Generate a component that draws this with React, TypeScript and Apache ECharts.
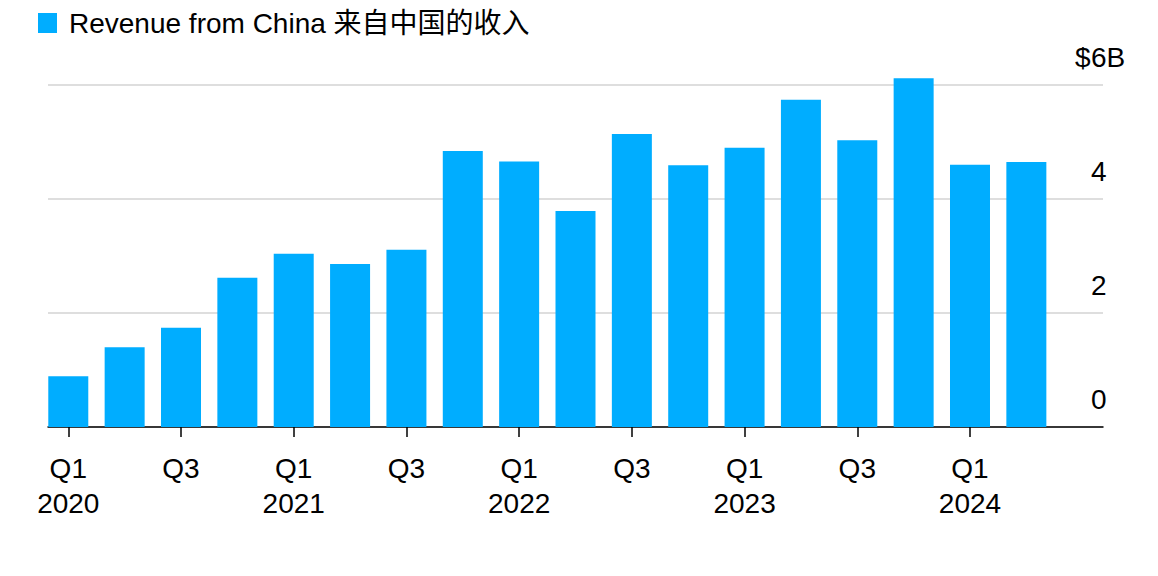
import React, { useEffect, useRef } from "react";
import * as echarts from "echarts";

const quarters = [
  "Q1 2020", "Q2 2020", "Q3 2020", "Q4 2020",
  "Q1 2021", "Q2 2021", "Q3 2021", "Q4 2021",
  "Q1 2022", "Q2 2022", "Q3 2022", "Q4 2022",
  "Q1 2023", "Q2 2023", "Q3 2023", "Q4 2023",
  "Q1 2024", "Q2 2024",
];
const revenue = [
  0.89, 1.4, 1.74, 2.62,
  3.04, 2.86, 3.11, 4.84,
  4.66, 3.79, 5.14, 4.59,
  4.9, 5.74, 5.03, 6.12,
  4.6, 4.65,
];
const tickIndexes = [0, 2, 4, 6, 8, 10, 12, 14, 16];
const yTicks = [0, 2, 4, 6];
const seriesName = "Revenue from China 来自中国的收入";

const FONT = "'Liberation Sans', Arial, Helvetica, 'Noto Sans CJK SC', sans-serif";

export default function App() {
  const ref = useRef<HTMLDivElement>(null);
  useEffect(() => {
    if (!ref.current) return;
    const chart = echarts.init(ref.current, null, { renderer: "svg" });
    const data = revenue.map((v, i) => [i, v]);
    chart.setOption({
      animation: false,
      textStyle: { fontFamily: FONT },
      legend: {
        show: true,
        left: 38,
        top: 9,
        padding: 0,
        icon: "rect",
        itemWidth: 19,
        itemHeight: 20,
        textStyle: {
          fontSize: 28,
          lineHeight: 28,
          color: "#000",
          fontFamily: FONT,
          padding: [0, 0, 0, 7],
        },
        data: [seriesName],
      },
      grid: { left: 48, right: 55, top: 85, bottom: 149, containLabel: false },
      xAxis: {
        type: "value",
        min: -0.36,
        max: 18.36,
        splitLine: { show: false },
        axisLine: { show: true, lineStyle: { color: "#000", width: 1.5 } },
        axisTick: {
          show: true,
          length: 10,
          lineStyle: { color: "#000", width: 1.5 },
          customValues: tickIndexes,
        },
        axisLabel: {
          show: true,
          customValues: tickIndexes,
          fontSize: 28,
          lineHeight: 35,
          margin: 24,
          color: "#000",
          fontFamily: FONT,
          formatter: (v: number) => {
            const q = quarters[Math.round(v)] || "";
            const [qq, yy] = q.split(" ");
            return qq === "Q1" ? qq + "\n" + yy : qq;
          },
        },
      },
      yAxis: {
        type: "value",
        position: "right",
        min: 0,
        max: 6,
        interval: 2,
        axisLine: { show: false },
        axisTick: { show: false },
        splitLine: { show: true, lineStyle: { color: "#dedede", width: 2 } },
        axisLabel: {
          show: true,
          margin: -28,
          align: "left",
          verticalAlign: "bottom",
          lineHeight: 28,
          padding: [0, 0, 14, 0],
          color: "#000",
          fontSize: 28,
          fontFamily: FONT,
          formatter: (v: number) =>
            v === yTicks[yTicks.length - 1] ? "{p|$}{n|" + v + "}{n|B}" : "{p|}{n|" + v + "}",
          rich: {
            p: { width: 16, fontSize: 28, lineHeight: 28, fontFamily: FONT, color: "#000" },
            n: { fontSize: 28, lineHeight: 28, fontFamily: FONT, color: "#000" },
          },
        },
      },
      series: [
        {
          name: seriesName,
          type: "bar",
          data,
          barWidth: 40,
          clip: false,
          itemStyle: { color: "#00adff" },
        },
      ],
    });
    return () => chart.dispose();
  }, []);
  return (
    <div
      ref={ref}
      style={{ position: "fixed", left: 0, top: 0, width: 1158, height: 576, background: "#fff" }}
    />
  );
}
